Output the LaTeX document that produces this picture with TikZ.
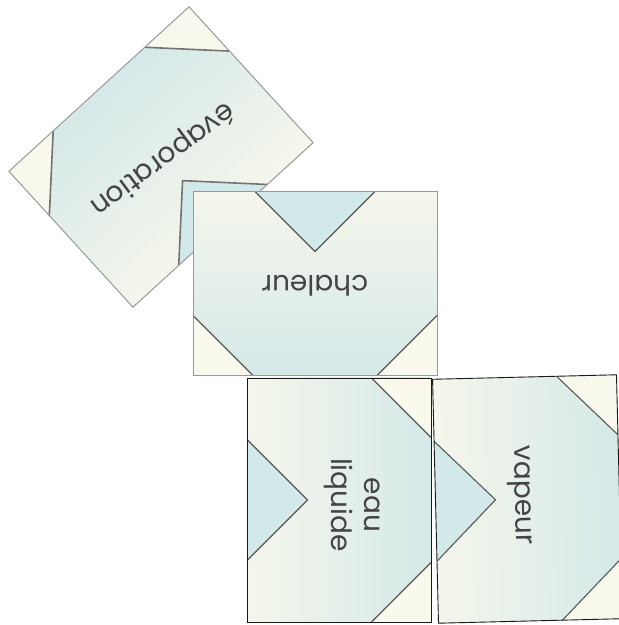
\documentclass[tikz,border=0pt]{standalone}
\usepackage{fontspec}
\setmainfont{Poppins}
\usepackage{tikz}
\usetikzlibrary{positioning}
\definecolor{tilecream}{RGB}{248,248,236}
\definecolor{tilepale}{RGB}{245,246,235}
\definecolor{tileblue}{RGB}{213,233,232}
\definecolor{notchblue}{RGB}{211,232,232}
\definecolor{inkgrey}{RGB}{68,68,68}
\tikzset{
  seam/.style   ={draw=black!65, line width=1.1pt},
  rimsoft/.style={draw=black!40, line width=1pt},
  rimhard/.style={draw=black!90, line width=0.9pt},
  word/.style   ={font=\fontsize{28}{33}\selectfont, text=inkgrey,
                  align=center, inner sep=0pt},
  tile/.pic={
    \shade[top color=tileblue, bottom color=tilepale] (-122,-92) rectangle (122,92);
    \fill[notchblue] (-60,-92) -- (0,-32) -- (60,-92) -- cycle;
    \fill[tilecream] (-122,92) -- (-62,92) -- (-122,32) -- cycle;
    \fill[tilecream] (122,92) -- (62,92) -- (122,32) -- cycle;
    \draw[seam] (-60,-92) -- (0,-32) -- (60,-92);
    \draw[seam] (-62,92) -- (-122,32);
    \draw[seam] (62,92) -- (122,32);
    \path[pic actions] (-122,-92) rectangle (122,92);
  },
}

\begin{document}
\begin{tikzpicture}[x=1pt, y=1pt]
  \useasboundingbox (0,0) rectangle (619,625);
  % tilted card, top left
  \begin{scope}[transform canvas={shift={(161,468)}, rotate=42.4},
                seam/.append style={draw=black!55, line width=1.6pt}]
    \pic[rimsoft] {tile};
    \node[word, rotate=174] (evap) at (0,-2) {évaporation};
  \end{scope}
  \begin{scope}[transform canvas={shift={(315,341.5)}, rotate=180}]
    \pic[rimsoft] {tile};
    \node[word] (heat) at (0,2) {chaleur};
  \end{scope}
  % bottom row
  \begin{scope}[transform canvas={shift={(339.5,125)}, rotate=-90}]
    \pic[rimhard] {tile};
    \node[word] (liq) at (5,13) {eau\\liquide};
  \end{scope}
  \begin{scope}[transform canvas={shift={(527.5,126)}, rotate=-88.6}]
    \pic[rimhard] {tile};
    \node[word] (vap) at (-4,-8) {vapeur};
  \end{scope}
\end{tikzpicture}
\end{document}
